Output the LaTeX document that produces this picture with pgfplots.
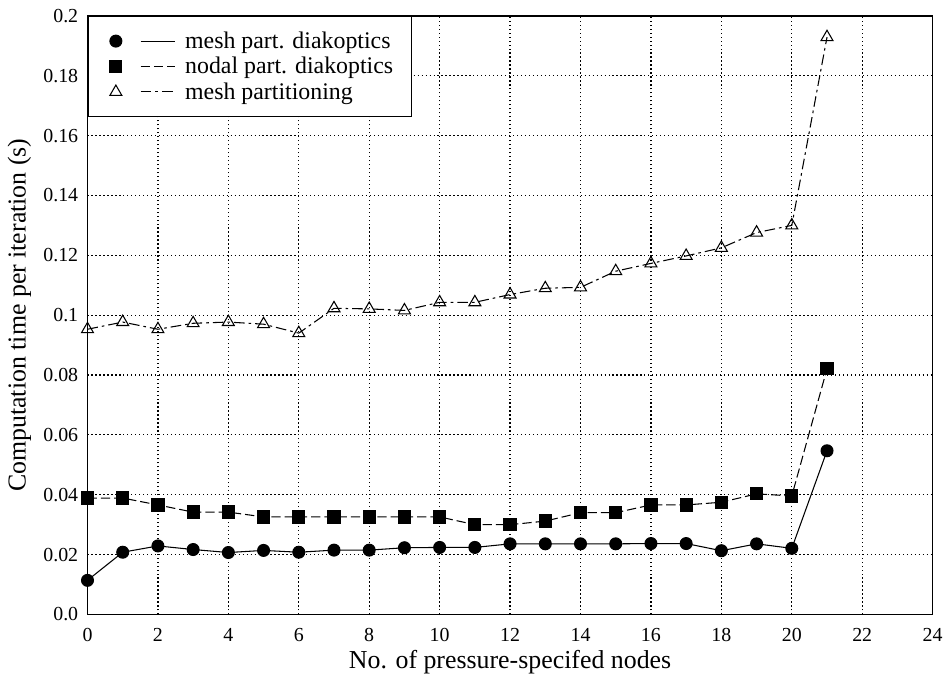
\documentclass[border=0pt]{standalone}
\usepackage{fontspec}
\setmainfont{Liberation Serif}
\usepackage{pgfplots}
\pgfplotsset{compat=1.18}
\begin{document}
\begin{tikzpicture}
\begin{axis}[
 scale only axis, width=637.5pt, height=451.5pt,
 xmin=0, xmax=24, ymin=0, ymax=0.2,
 xtick={0,2,4,6,8,10,12,14,16,18,20,22,24},
 xticklabels={0,2,4,6,8,10,12,14,16,18,20,22,24},
 ytick={0,0.02,0.04,0.06,0.08,0.1,0.12,0.14,0.16,0.18,0.2},
 yticklabels={0.0,0.02,0.04,0.06,0.08,0.1,0.12,0.14,0.16,0.18,0.2},
 major tick length=0pt,
 grid=major,
 major grid style={black, line width=0.9pt, dash pattern=on 0.9pt off 2.1pt},
 axis line style={line width=1pt},
 tick label style={font=\fontsize{15}{17}\selectfont},
 xticklabel style={yshift=-7pt},
 yticklabel style={xshift=-3.5pt},
 label style={font=\fontsize{19.5}{23}\selectfont},
 xlabel={No. of pressure-specifed nodes},
 ylabel={Computation time per iteration (s)},
 xlabel style={at={(axis description cs:0.5,-0.079)}, anchor=center},
 ylabel style={at={(axis description cs:-0.0805,0.5)}, anchor=center},
 legend style={at={(0,1)}, anchor=north west, draw=black, line width=0.8pt,
   font=\fontsize{18}{20}\selectfont, inner xsep=11pt, inner ysep=9pt,
   nodes={inner sep=2.6pt}, column sep=5pt, legend cell align=left},
 legend image code/.code={
   \path[draw=none, fill=none] (-10pt,0pt) rectangle (0pt,0pt);
   \draw[#1] plot coordinates {(0pt,0pt)};
   \draw[#1, mark=none] (18.75pt,0pt) -- (44.25pt,0pt);
 },
]
\addplot[black, line width=0.8pt, mark=*, mark size=4.5pt, mark options={solid}] coordinates {
(0,0.0114) (1,0.0208) (2,0.0229) (3,0.0217) (4,0.0207) (5,0.0214) (6,0.0208) (7,0.0215) (8,0.0215) (9,0.0223) (10,0.0224) (11,0.0224) (12,0.0236) (13,0.0236) (14,0.0236) (15,0.0236) (16,0.0237) (17,0.0237) (18,0.0213) (19,0.0236) (20,0.0221) (21,0.0547)
};
\addlegendentry{mesh part. diakoptics}
\addplot[black, line width=0.8pt, dash pattern=on 7pt off 3pt, mark=square*, mark size=4.6pt, mark options={solid}] coordinates {
(0,0.0389) (1,0.0389) (2,0.0366) (3,0.0342) (4,0.0342) (5,0.0326) (6,0.0326) (7,0.0326) (8,0.0326) (9,0.0326) (10,0.0326) (11,0.0300) (12,0.0300) (13,0.0312) (14,0.0340) (15,0.0340) (16,0.0366) (17,0.0366) (18,0.0375) (19,0.0403) (20,0.0396) (21,0.0821)
};
\addlegendentry{nodal part. diakoptics}
\addplot[black, line width=0.8pt, dash pattern=on 8pt off 3pt on 2pt off 3pt, mark=triangle, mark size=5.2pt, mark options={solid, fill=white}] coordinates {
(0,0.0953) (1,0.0977) (2,0.0953) (3,0.0973) (4,0.0977) (5,0.0970) (6,0.0940) (7,0.1023) (8,0.1021) (9,0.1016) (10,0.1043) (11,0.1043) (12,0.1069) (13,0.1090) (14,0.1093) (15,0.1147) (16,0.1173) (17,0.1198) (18,0.1225) (19,0.1276) (20,0.1300) (21,0.1929)
};
\addlegendentry{mesh partitioning}
\end{axis}
\path ([shift={(-66pt,-42pt)}]current axis.south west) rectangle ([shift={(6.75pt,12pt)}]current axis.north east);
\end{tikzpicture}
\end{document}
